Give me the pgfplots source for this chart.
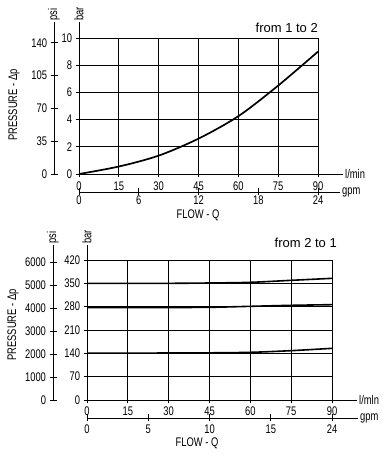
\documentclass[border=0pt]{standalone}
\usepackage{fontspec}
\setmainfont{Liberation Sans}
\newfontfamily\narrowfont{Liberation Sans}[FakeStretch=0.75]
\usepackage{pgfplots}
\pgfplotsset{compat=1.18}
\usepackage{pgfplotstable}

\newcommand\tickfont{\narrowfont\fontsize{12.5}{13}\selectfont}
\newcommand\titlefont{\fontsize{13}{14}\selectfont}

\pgfplotstableread{
x y
0 0
15 0.55
30 1.35
45 2.6
60 4.25
75 6.5
90 9.0
}\topcurve

\pgfplotstableread{
x a b c
0 350 277 140.5
15 350 277 140.5
30 350 277.5 141
45 351 278 141.5
60 353 281 143
75 359 284 148
90 365 286 155
}\botcurves

\pgfplotsset{
  base/.style={scale only axis, anchor=south west, clip=false,
    axis line style={-, line width=0.8pt, black},
    tick style={black, line width=0.8pt}, tick align=center,
    major tick length=7pt,
    ticklabel style={font=\tickfont},
    /pgf/number format/assume math mode=true,
    /pgf/number format/1000 sep={}},
  yonly/.style={base, hide x axis, axis y line*=left, xmin=0, xmax=1, width=10pt},
  xonly/.style={base, hide y axis, axis x line*=bottom, ymin=0, ymax=1, height=10pt},
  gridax/.style={base, grid=major, grid style={black, line width=0.8pt},
    xticklabels={}, yticklabels={}, major tick length=0pt},
}

\begin{document}
\begin{tikzpicture}
\useasboundingbox (0,0) rectangle (385pt,457pt);

% ================= TOP CHART =================
\begin{axis}[gridax, at={(79pt,283pt)}, width=239pt, height=136pt,
  xmin=0, xmax=90, ymin=0, ymax=10, xtick={0,15,...,90}, ytick={0,2,...,10}]
\addplot[black, line width=1.7pt, smooth] table[x=x, y=y] {\topcurve};
\end{axis}
% bar axis
\begin{axis}[yonly, at={(79pt,283pt)}, height=152pt, ymin=0, ymax=11.176,
  ytick={0,2,...,10}]
\node[rotate=90, anchor=west, font=\tickfont, inner sep=1pt] at (rel axis cs:0,1) {bar};
\end{axis}
% psi axis
\begin{axis}[yonly, at={(54pt,283pt)}, height=152pt, ymin=0, ymax=162.1,
  ytick={0,35,70,105,140}]
\node[rotate=90, anchor=west, font=\tickfont, inner sep=1pt] at (rel axis cs:0,1) {psi};
\end{axis}
% l/min axis
\begin{axis}[xonly, at={(79pt,283pt)}, width=264pt, xmin=0, xmax=99.41,
  xtick={0,15,...,90}, xticklabel style={yshift=-1pt}]
\node[anchor=west, font=\tickfont, inner sep=2pt] at (rel axis cs:1,0) {l/min};
\end{axis}
% gpm axis
\begin{axis}[xonly, at={(79pt,265pt)}, width=261pt, xmin=0, xmax=98.28,
  xtick={0,22.5,45,67.5,90}, xticklabels={0,6,12,18,24}, xticklabel style={yshift=3pt}]
\node[anchor=west, font=\tickfont, inner sep=2pt] at (rel axis cs:1,0) {gpm};
\end{axis}
\node[font=\tickfont] at (198pt,242pt) {FLOW - Q};
\node[rotate=90, font=\tickfont] at (14pt,352pt) {PRESSURE - Δp};
\node[anchor=base east, font=\titlefont, inner sep=0pt] at (318pt,424pt) {from 1 to 2};

% ================= BOTTOM CHART =================
\begin{axis}[gridax, at={(87pt,57pt)}, width=245pt, height=140pt,
  xmin=0, xmax=90, ymin=0, ymax=420, xtick={0,15,...,90}, ytick={0,70,...,420}]
\addplot[black, line width=1.6pt, smooth] table[x=x, y=a] {\botcurves};
\addplot[black, line width=1.6pt, smooth] table[x=x, y=b] {\botcurves};
\addplot[black, line width=1.6pt, smooth] table[x=x, y=c] {\botcurves};
\end{axis}
% bar axis
\begin{axis}[yonly, at={(87pt,57pt)}, height=155pt, ymin=0, ymax=465,
  ytick={0,70,...,420}]
\node[rotate=90, anchor=west, font=\tickfont, inner sep=1pt] at (rel axis cs:0,1) {bar};
\end{axis}
% psi axis
\begin{axis}[yonly, at={(53pt,57pt)}, height=155pt, ymin=0, ymax=6744.3,
  ytick={0,1000,...,6000}]
\node[rotate=90, anchor=west, font=\tickfont, inner sep=1pt] at (rel axis cs:0,1) {psi};
\end{axis}
% l/mln axis
\begin{axis}[xonly, at={(87pt,57pt)}, width=270pt, xmin=0, xmax=99.18,
  xtick={0,15,...,90}]
\node[anchor=west, font=\tickfont, inner sep=2pt] at (rel axis cs:1,0) {l/mln};
\end{axis}
% gpm axis
\begin{axis}[xonly, at={(87pt,39pt)}, width=271pt, xmin=0, xmax=99.55,
  xtick={0,22.5,45,67.5,90}, xticklabels={0,5,10,15,24}]
\node[anchor=west, font=\tickfont, inner sep=2pt] at (rel axis cs:1,0) {gpm};
\end{axis}
\node[font=\tickfont] at (197pt,14pt) {FLOW - Q};
\node[rotate=90, font=\tickfont] at (13pt,132pt) {PRESSURE - Δp};
\node[anchor=base east, font=\titlefont, inner sep=0pt] at (337pt,209pt) {from 2 to 1};
\end{tikzpicture}
\end{document}
